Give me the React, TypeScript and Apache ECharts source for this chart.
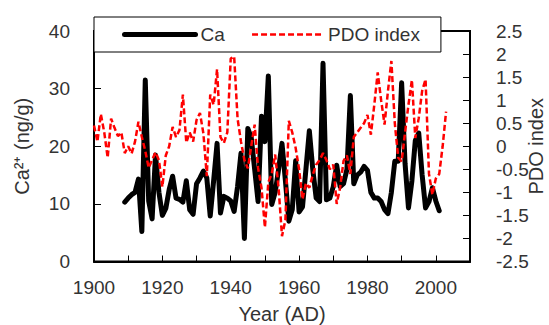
import React, { useEffect, useRef } from "react";
import * as echarts from "echarts";

const caStartYear = 1909;
const caValues = [
  10.3, 11.0, 11.6, 12.0, 14.3, 5.2, 31.5, 10.5, 7.4, 18.5,
  12.0, 8.0, 9.2, 12.5, 14.8, 11.0, 10.8, 10.3, 14.0, 9.0,
  8.2, 13.5, 14.5, 15.7, 14.5, 7.9, 14.0, 20.5, 8.4, 11.3,
  11.0, 10.5, 8.7, 13.0, 18.8, 4.0, 23.1, 21.5, 16.0, 10.4,
  25.2, 20.8, 32.2, 9.9, 12.0, 16.0, 20.5, 14.0, 7.0, 9.0,
  17.5, 8.6, 9.5, 16.0, 22.7, 16.0, 11.0, 10.4, 34.4, 10.7,
  11.0, 13.0, 16.7, 13.0, 13.5, 16.0, 28.8, 13.5, 15.0, 15.5,
  16.5, 15.8, 12.0, 11.0, 11.0, 10.4, 9.0, 8.3, 12.0, 17.4,
  17.4, 31.0, 17.0, 9.3, 14.0, 21.0, 22.3, 15.0, 9.3, 10.4,
  12.8, 10.5, 8.8,
];

const pdoStartYear = 1900;
const pdoValues = [
  0.45, 0.1, 0.7, 0.3, -0.25, 0.6, 0.4, 0.22, 0.3, -0.15,
  0.0, -0.16, 0.1, 0.53, 0.2, -0.1, -0.47, -0.3, -0.13, -0.3,
  -0.88, -0.2, 0.0, 0.42, 0.2, 0.35, 1.12, 0.08, 0.3, 0.1,
  0.57, 0.72, 0.28, -0.65, 1.12, 0.9, 1.67, 0.2, 0.07, 0.3,
  1.9, 1.95, 0.6, 0.1, -0.3, -0.48, 0.0, 0.47, -0.47, -0.9,
  -1.76, -0.78, -0.6, -0.18, -0.9, -1.95, -1.6, 0.55, 0.3, -0.04,
  -0.5, -1.15, -0.8, -0.9, -0.62, -0.4, -0.3, -0.15, -0.3, -0.5,
  -0.4, -1.25, -0.9, -0.32, -0.2, -0.6, 0.2, 0.3, 0.4, 0.5,
  0.68, 0.25, 0.9, 1.6, 1.0, 0.47, 1.2, 1.85, 0.5, -0.25,
  -0.33, 0.3, 0.9, 1.44, 0.18, 0.61, 1.2, 1.45, -0.6, -1.05,
  -0.7, -0.6, 0.0, 0.75,
];

const seriesNames = ["Ca", "PDO index"];
const xAxisTitle = "Year (AD)";
const leftAxisTitle = "Ca²⁺ (ng/g)";
const rightAxisTitle = "PDO index";

const FONT = "'Liberation Sans', Arial, sans-serif";
const TEXT = "#333333";

export default function App() {
  const ref = useRef<HTMLDivElement>(null);
  useEffect(() => {
    if (!ref.current) return;
    const chart = echarts.init(ref.current, undefined, { renderer: "svg" });
    const caData = caValues.map((v, i) => [caStartYear + i, v]);
    const pdoData = pdoValues.map((v, i) => [pdoStartYear + i, v]);
    chart.setOption({
      animation: false,
      textStyle: { fontFamily: FONT },
      grid: {
        left: 94,
        right: 79,
        top: 31,
        bottom: 63.5,
        outerBoundsMode: "none",
        containLabel: false,
        show: true,
        borderColor: "#000",
        borderWidth: 2,
      },
      legend: {
        data: [
          {
            name: seriesNames[0],
            lineStyle: { width: 5, color: "#000" },
            itemStyle: { opacity: 0 },
          },
          {
            name: seriesNames[1],
            lineStyle: { width: 2.5, color: "#ff0000", type: [6, 3] },
            itemStyle: { opacity: 0 },
          },
        ],
        left: 94,
        top: 17,
        padding: [8, 21, 8, 28],
        itemGap: 26,
        itemWidth: 71,
        itemHeight: 14,
        backgroundColor: "#fff",
        borderColor: "#000",
        borderWidth: 1,
        textStyle: { fontSize: 19, color: TEXT, fontFamily: FONT },
      },
      xAxis: {
        type: "value",
        min: 1900,
        max: 2010,
        interval: 10,
        splitLine: { show: false },
        axisLine: { lineStyle: { color: "#000", width: 2 } },
        axisTick: { inside: true, length: 6, lineStyle: { color: "#000", width: 1 } },
        axisLabel: {
          margin: 16,
          fontSize: 19,
          color: TEXT,
          fontFamily: FONT,
          formatter: (v: number) => (v % 20 === 0 && v <= 2000 ? String(v) : ""),
        },
        name: xAxisTitle,
        nameLocation: "middle",
        nameGap: 42,
        nameTextStyle: { fontSize: 20, color: TEXT, fontFamily: FONT },
      },
      yAxis: [
        {
          type: "value",
          min: 0,
          max: 40,
          interval: 10,
          splitLine: { show: false },
          axisLine: { show: true, lineStyle: { color: "#000", width: 2 } },
          axisTick: { show: true, inside: true, length: 7, lineStyle: { color: "#000", width: 1 } },
          axisLabel: { margin: 24, fontSize: 19, color: TEXT, fontFamily: FONT },
          name: leftAxisTitle,
          nameLocation: "middle",
          nameRotate: 90,
          nameGap: 62,
          nameTextStyle: { fontSize: 20, color: TEXT, fontFamily: FONT },
        },
        {
          type: "value",
          position: "right",
          min: -2.5,
          max: 2.5,
          interval: 0.5,
          splitLine: { show: false },
          axisLine: { show: true, lineStyle: { color: "#000", width: 2 } },
          axisTick: { show: true, inside: true, length: 7, lineStyle: { color: "#000", width: 1 } },
          axisLabel: { margin: 26, fontSize: 19, color: TEXT, fontFamily: FONT },
          name: rightAxisTitle,
          nameLocation: "middle",
          nameRotate: 90,
          nameMoveOverlap: false,
          nameGap: 56,
          nameTextStyle: { fontSize: 20, color: TEXT, fontFamily: FONT },
        },
      ],
      series: [
        {
          name: seriesNames[0],
          type: "line",
          yAxisIndex: 0,
          data: caData,
          symbol: "none",
          lineStyle: { color: "#000", width: 5, join: "round", cap: "round" },
          itemStyle: { color: "#000" },
          z: 2,
        },
        {
          name: seriesNames[1],
          type: "line",
          yAxisIndex: 1,
          data: pdoData,
          symbol: "none",
          lineStyle: { color: "#ff0000", width: 2.5, type: [6, 3] },
          itemStyle: { color: "#ff0000" },
          z: 3,
        },
      ],
    });
    return () => chart.dispose();
  }, []);
  return (
    <div
      ref={ref}
      style={{ position: "fixed", left: 0, top: 0, width: 549, height: 325, background: "#fff" }}
    />
  );
}
